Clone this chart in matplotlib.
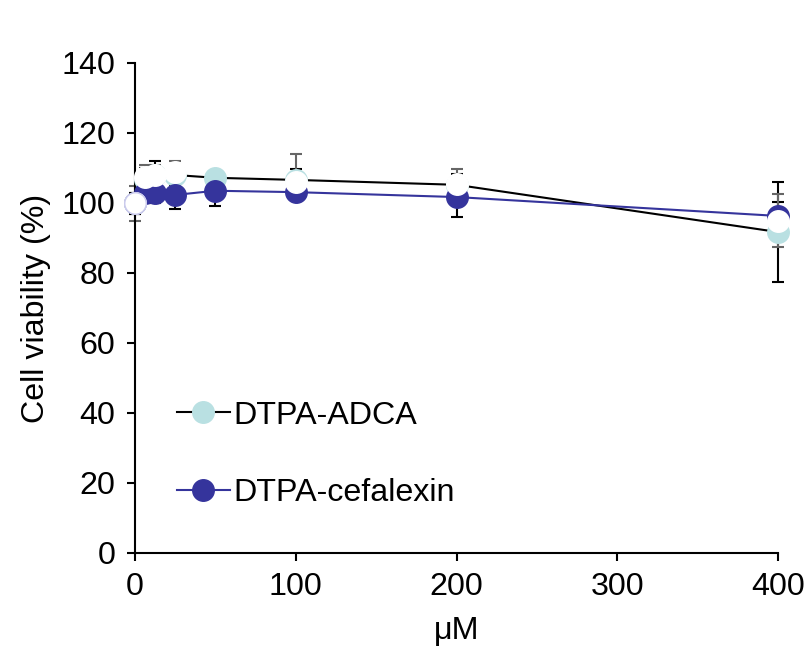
import matplotlib
matplotlib.use("Agg")
import matplotlib.pyplot as plt
import matplotlib.lines as mlines

plt.rcParams['font.family'] = ['Liberation Sans', 'DejaVu Sans']

conc = [0, 6.25, 12.5, 25, 50, 100, 200, 400]
adca = [100, 107, 108, 108, 107.2, 106.6, 105.2, 91.7]
adca_err = [3, 3, 4, 3, 2, 3, 3, 14.3]
cefa = [100, 103, 103, 102.3, 103.5, 103.1, 101.7, 96.3]
cefa_err = [3, 3, 3, 4, 4.3, 2, 5.7, 4]

ctrl_x = [0, 6.25, 12.5, 25, 100, 200, 400]
ctrl = [100, 107.5, 108, 109, 106, 105.5, 95]
ctrl_err_lo = [5, 3.5, 3, 3, 4, 4.2, 7.6]
ctrl_err_hi = [5, 3.5, 3, 3, 8, 4.2, 7.6]

xticks = [0, 100, 200, 300, 400]
yticks = [0, 20, 40, 60, 80, 100, 120, 140]

fig = plt.figure(figsize=(8.07, 6.54), dpi=100)
ax = fig.add_axes([135/807, 1-553/654, (778-135)/807, (553-63)/654])

ms = 15.5
fs = 23.2
c_adca = '#b9e0e2'
c_cefa = '#35349c'

# error bars behind markers
ax.errorbar(conc, adca, yerr=adca_err, fmt='none', ecolor='black',
            elinewidth=1.5, capsize=4, capthick=1.5, zorder=1, clip_on=False)
ax.errorbar(conc, cefa, yerr=cefa_err, fmt='none', ecolor='black',
            elinewidth=1.5, capsize=4, capthick=1.5, zorder=1, clip_on=False)
ax.errorbar(ctrl_x, ctrl, yerr=[ctrl_err_lo, ctrl_err_hi], fmt='none',
            ecolor='#666666', elinewidth=1.5, capsize=4, capthick=1.5,
            zorder=1.5, clip_on=False)

ax.plot(conc, adca, color='black', lw=1.5, marker='o', ms=ms,
        mfc=c_adca, mec=c_adca, zorder=3, clip_on=False)
ax.plot(conc, cefa, color=c_cefa, lw=1.5, marker='o', ms=ms,
        mfc=c_cefa, mec=c_cefa, zorder=4, clip_on=False)
ax.plot(ctrl_x, ctrl, linestyle='none', marker='o', ms=ms,
        mfc='white', mec='white', zorder=5, clip_on=False)
ax.plot([0], [100], 'o', ms=ms, mfc='white', mec='#c8c8ec', mew=1,
        zorder=6, clip_on=False)

ax.set_xlim(0, 400)
ax.set_ylim(0, 140)
ax.set_xticks(xticks)
ax.set_yticks(yticks)
ax.tick_params(labelsize=fs, direction='out', length=6, width=1.5, pad=8)
for s in ['top', 'right']:
    ax.spines[s].set_visible(False)
for s in ['left', 'bottom']:
    ax.spines[s].set_linewidth(1.5)
ax.set_xlabel('μM', fontsize=fs, labelpad=10)
ax.set_ylabel('Cell viability (%)', fontsize=fs, labelpad=8)

h2 = [mlines.Line2D([], [], color='black', lw=1.5, marker='o', ms=ms,
                    mfc=c_adca, mec=c_adca),
      mlines.Line2D([], [], color=c_cefa, lw=1.5, marker='o', ms=ms,
                    mfc=c_cefa, mec=c_cefa)]
ax.legend(h2, ['DTPA-ADCA', 'DTPA-cefalexin'], loc='upper left',
          bbox_to_anchor=(0.045, 0.337), frameon=False, fontsize=fs,
          handlelength=1.65, handletextpad=0.1, labelspacing=1.47,
          borderaxespad=0)

fig.savefig('out.png', dpi=100)
